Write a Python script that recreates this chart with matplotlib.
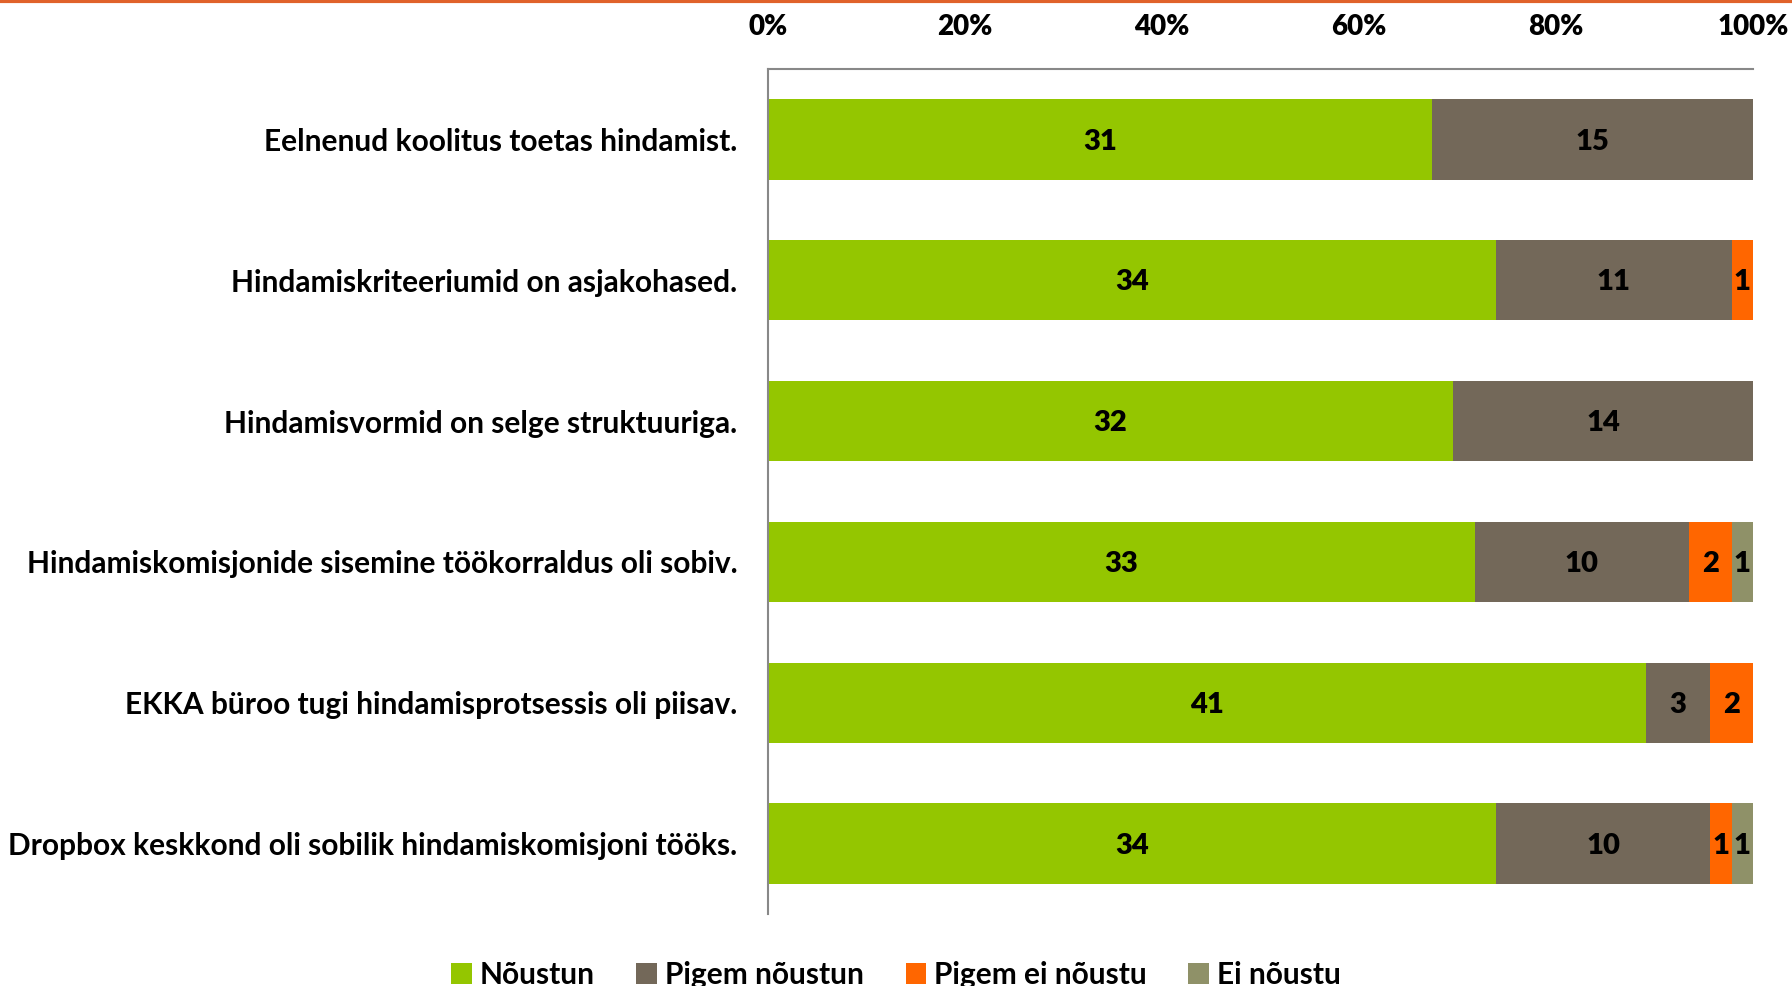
import matplotlib.pyplot as plt
import matplotlib.lines as mlines
import numpy as np

categories = [
    "Eelnenud koolitus toetas hindamist.",
    "Hindamiskriteeriumid on asjakohased.",
    "Hindamisvormid on selge struktuuriga.",
    "Hindamiskomisjonide sisemine töökorraldus oli sobiv.",
    "EKKA büroo tugi hindamisprotsessis oli piisav.",
    "Dropbox keskkond oli sobilik hindamiskomisjoni tööks.",
]
series_names = ["Nõustun", "Pigem nõustun", "Pigem ei nõustu", "Ei nõustu"]
noustun = [31, 34, 32, 33, 41, 34]
pigem_noustun = [15, 11, 14, 10, 3, 10]
pigem_ei = [0, 1, 0, 2, 2, 1]
ei_noustu = [0, 0, 0, 1, 0, 1]
tick_labels = ["0%", "20%", "40%", "60%", "80%", "100%"]

colors = ["#94C600", "#736859", "#FF6600", "#8F9168"]

plt.rcParams['font.family'] = ['Lato', 'DejaVu Sans']
plt.rcParams['font.weight'] = 'bold'

fig = plt.figure(figsize=(17.92, 9.86), dpi=100)
ax = fig.add_axes([0.4286, 0.073, 0.5496, 0.857])

data = np.array([noustun, pigem_noustun, pigem_ei, ei_noustu], dtype=float)
totals = data.sum(axis=0)
shares = data / totals
y = np.arange(len(categories))
left = np.zeros(len(categories))
for i, name in enumerate(series_names):
    ax.barh(y, shares[i], left=left, height=0.57, color=colors[i], label=name)
    for j in range(len(categories)):
        if data[i, j] > 0:
            ax.text(left[j] + shares[i, j] / 2, y[j] + 0.015, str(int(data[i, j])),
                    ha='center', va='center', fontsize=21, fontweight='heavy', color='black')
    left += shares[i]

ax.set_xlim(0, 1)
ax.set_ylim(len(categories) - 0.5, -0.5)
ax.set_yticks(y)
ax.set_yticklabels(categories, fontsize=21.5, fontweight='bold')
ax.set_xticks(np.linspace(0, 1, 6))
ax.set_xticklabels(tick_labels, fontsize=20, fontweight='heavy')
ax.xaxis.tick_top()
ax.tick_params(axis='both', length=0)
ax.tick_params(axis='x', pad=21)
ax.tick_params(axis='y', pad=22)
for s in ['right', 'bottom']:
    ax.spines[s].set_visible(False)
for s in ['top', 'left']:
    ax.spines[s].set_color('#888888')
    ax.spines[s].set_linewidth(1.5)

fig.legend(loc='lower center', ncol=4, bbox_to_anchor=(0.5, -0.03), frameon=False,
           prop={'size': 21.5, 'weight': 'bold'}, handlelength=0.7, handleheight=0.7,
           handletextpad=0.25, columnspacing=1.4)

fig.add_artist(mlines.Line2D([0, 1], [0.999, 0.999], color='#E0622A', linewidth=3,
                             transform=fig.transFigure))

plt.savefig('out.png', dpi=100)
